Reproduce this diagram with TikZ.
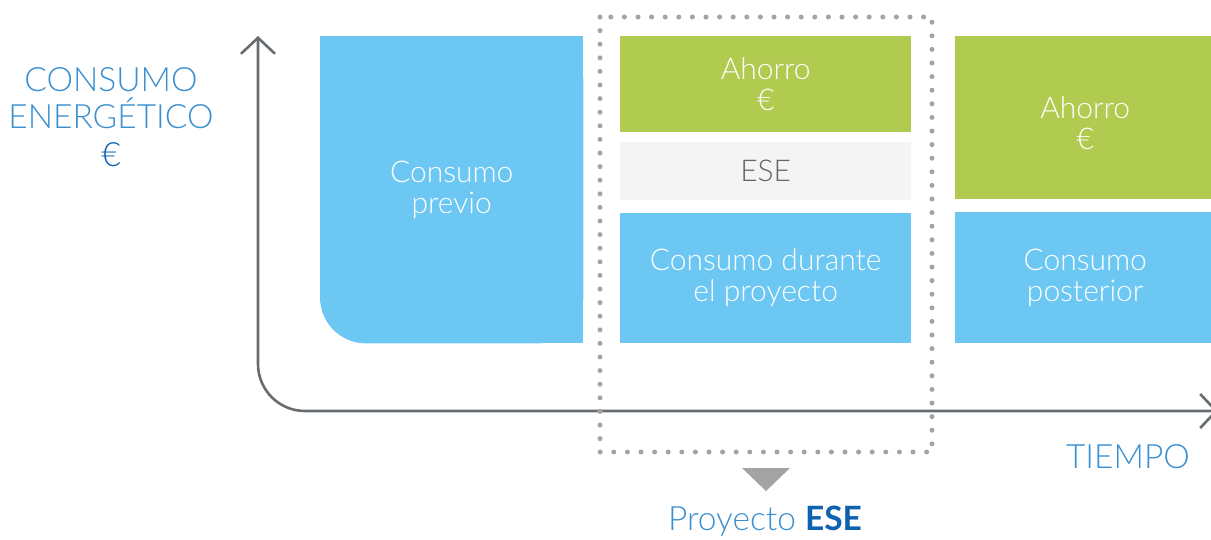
\documentclass[tikz,border=0pt]{standalone}
\usepackage{fontspec}
\setmainfont{Lato}[UprightFont=* Light, BoldFont=* Bold]
\usetikzlibrary{arrows.meta,calc}

\definecolor{consumoblue}{HTML}{6CC8F3}
\definecolor{ahorrogreen}{HTML}{B1CA50}
\definecolor{esegray}{HTML}{F4F4F4}
\definecolor{esetext}{HTML}{5F676C}
\definecolor{axisgray}{HTML}{676C70}
\definecolor{dotgray}{HTML}{A3A3A3}
\definecolor{labelblue}{HTML}{3A8FD0}
\definecolor{darkblue}{HTML}{0E63B0}

\begin{document}
\begin{tikzpicture}[x=1pt,y=-1pt]
  \useasboundingbox (0,0) rectangle (1211,539);
  \begin{scope}[
    bar node/.style={
      anchor=north west,
      inner sep=0pt,
      align=center,
      text=white,
      font=\fontsize{30}{31}\selectfont,
    },
    consumo node/.style={bar node,fill=consumoblue},
    ahorro node/.style={bar node,fill=ahorrogreen},
    ]
    \node[bar node,minimum width=263pt,minimum height=307pt] (previo) at (320,36) {};
    % only the lower left corner of the first bar is rounded
    \fill[consumoblue,rounded corners=46pt] (previo.north west) rectangle (previo.south east);
    \fill[consumoblue] (previo.north west) rectangle (previo.east);
    \fill[consumoblue] (previo.north) rectangle (previo.south east);
    \node[bar node,anchor=center] (previo-text) at (previo.center) {Consumo\\previo};
    \node[ahorro node,minimum width=291pt,minimum height=96pt] (ahorro-ese) at (620,36) {Ahorro\\€};
    \node[bar node,fill=esegray,text=esetext,minimum width=291pt,minimum height=58pt] (ese) at (620,142) {ESE};
    \node[consumo node,minimum width=291pt,minimum height=130pt] (durante) at (620,213) {Consumo durante\\el proyecto};
    \node[ahorro node,minimum width=260pt,minimum height=163pt,text height=64pt] (ahorro-post) at (955,36) {Ahorro\\€};
    \node[consumo node,minimum width=260pt,minimum height=131pt] (posterior) at (955,212) {Consumo\\posterior};
  \end{scope}
  % axes
  \coordinate (y-tip) at (258,36);
  \coordinate (x-tip) at (1218,411);
  \draw[axisgray,line width=2.6pt,rounded corners=47pt,
    {Straight Barb[length=16pt,width=34pt]}-{Straight Barb[length=16pt,width=34pt]}]
    (y-tip) |- (x-tip);
  % proyecto frame
  \coordinate (frame-nw) at (600,17);
  \coordinate (frame-se) at (932,452);
  \draw[dotgray,line width=5pt,line cap=round,dash pattern=on 0pt off 13.6pt]
    (frame-nw) rectangle (frame-se);
  \fill[dotgray] (742,468) -- (790,468) -- (766,491) -- cycle;
  \begin{scope}[every node/.style={text=labelblue,align=center,font=\fontsize{33.5}{37.5}\selectfont}]
    \node (consumo-label) at (111,117) {CONSUMO\\ENERGÉTICO\\\textcolor{darkblue}{€}};
    \node (tiempo-label) at (1128,457) {TIEMPO};
    \node (proyecto-label) at (765,521) {Proyecto \textcolor{darkblue}{\bfseries ESE}};
  \end{scope}
\end{tikzpicture}
\end{document}
